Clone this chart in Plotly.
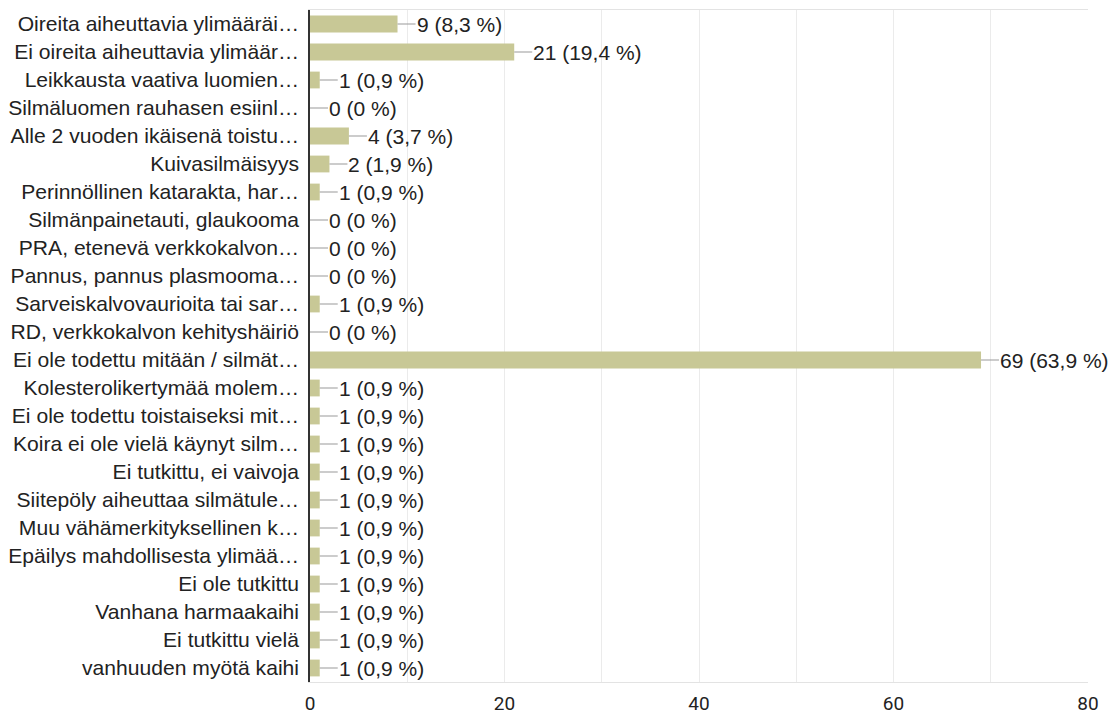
import plotly.graph_objects as go

categories = [
    "Oireita aiheuttavia ylimääräi…",
    "Ei oireita aiheuttavia ylimäär…",
    "Leikkausta vaativa luomien…",
    "Silmäluomen rauhasen esiinl…",
    "Alle 2 vuoden ikäisenä toistu…",
    "Kuivasilmäisyys",
    "Perinnöllinen katarakta, har…",
    "Silmänpainetauti, glaukooma",
    "PRA, etenevä verkkokalvon…",
    "Pannus, pannus plasmooma…",
    "Sarveiskalvovaurioita tai sar…",
    "RD, verkkokalvon kehityshäiriö",
    "Ei ole todettu mitään / silmät…",
    "Kolesterolikertymää molem…",
    "Ei ole todettu toistaiseksi mit…",
    "Koira ei ole vielä käynyt silm…",
    "Ei tutkittu, ei vaivoja",
    "Siitepöly aiheuttaa silmätule…",
    "Muu vähämerkityksellinen k…",
    "Epäilys mahdollisesta ylimää…",
    "Ei ole tutkittu",
    "Vanhana harmaakaihi",
    "Ei tutkittu vielä",
    "vanhuuden myötä kaihi",
]
counts = [9, 21, 1, 0, 4, 2, 1, 0, 0, 0, 1, 0, 69, 1, 1, 1, 1, 1, 1, 1, 1, 1, 1, 1]
percents = ["8,3", "19,4", "0,9", "0", "3,7", "1,9", "0,9", "0", "0", "0", "0,9", "0",
            "63,9", "0,9", "0,9", "0,9", "0,9", "0,9", "0,9", "0,9", "0,9", "0,9", "0,9", "0,9"]
x_ticks = [0, 20, 40, 60, 80]

TEXT = "#222222"
FONT = "Liberation Sans, Arial, sans-serif"

fig = go.Figure()
fig.add_trace(go.Bar(
    x=counts, y=categories, orientation="h",
    marker=dict(color="#c8c896", line=dict(width=0)),
    hoverinfo="skip",
))

for c, n, p in zip(categories, counts, percents):
    fig.add_annotation(
        x=n, y=c, xref="x", yref="y",
        text=f"{n} ({p} %)",
        showarrow=True, arrowhead=0, arrowwidth=1.2, arrowcolor="#9a9a9a",
        ax=18, ay=0, xanchor="left", yanchor="middle",
        standoff=0, startstandoff=0, borderpad=0,
        font=dict(family=FONT, size=21, color=TEXT),
    )

fig.update_layout(
    width=1116, height=715,
    margin=dict(l=302, r=36, t=2, b=41, autoexpand=False),
    paper_bgcolor="white", plot_bgcolor="white",
    bargap=0.4, showlegend=False,
    font=dict(family=FONT, size=21, color=TEXT),
)
fig.update_xaxes(
    range=[0, 80], tickvals=x_ticks, automargin=False,
    showgrid=True, gridcolor="#ebebeb", gridwidth=1,
    minor=dict(dtick=10, showgrid=True, gridcolor="#ebebeb", gridwidth=1),
    zeroline=False, showline=True, linecolor="#e3e3e3", linewidth=1, mirror=True,
    ticks="", ticklabelstandoff=4,
    tickfont=dict(family="Liberation Sans Narrow, Roboto, sans-serif", size=19, color=TEXT),
)
fig.update_yaxes(
    autorange="reversed", showgrid=False, zeroline=False, automargin=False,
    showline=True, linecolor="#333333", linewidth=1.5,
    ticks="", ticklabelstandoff=5,
    tickfont=dict(family=FONT, size=21.1, color=TEXT),
)

fig.write_html("out.html")
